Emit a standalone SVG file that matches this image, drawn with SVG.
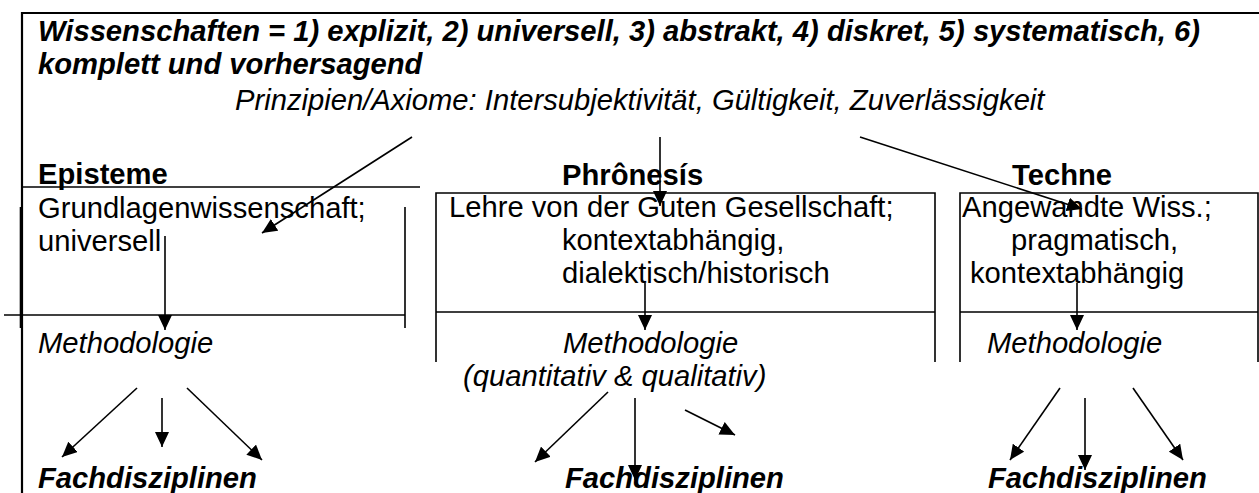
<svg xmlns="http://www.w3.org/2000/svg" width="1259" height="493" viewBox="0 0 1259 493">
<style>
text{font-family:"Liberation Sans",Arial,sans-serif;font-size:29.2px;fill:#000}
.bi{font-weight:bold;font-style:italic}
.b{font-weight:bold}
.i{font-style:italic}
.frame{stroke:#000;stroke-width:2.2;fill:none}
.ln{stroke:#000;stroke-width:1.6;fill:none}
.ar{stroke:#000;stroke-width:1.6;fill:none;marker-end:url(#ah)}
</style>
<defs>
<marker id="ah" markerUnits="userSpaceOnUse" markerWidth="16" markerHeight="14" refX="15" refY="7" orient="auto">
<path d="M0,0 L15,7 L0,14 z" fill="#000"/>
</marker>
</defs>
<rect width="1259" height="493" fill="#fff"/>
<g id="frame">
<path class="frame" d="M22,493 V13 H1259"/>
<text class="bi" x="38" y="41">Wissenschaften = 1) explizit, 2) universell, 3) abstrakt, 4) diskret, 5) systematisch, 6)</text>
<text class="bi" x="38" y="74">komplett und vorhersagend</text>
</g>
<g id="prinzipien">
<text class="i" x="235" y="110">Prinzipien/Axiome: Intersubjektivität, Gültigkeit, Zuverlässigkeit</text>
</g>
<g id="episteme">
<text class="b" x="38" y="184">Episteme</text>
<path class="ln" d="M22,187 H420"/>
<path class="ln" d="M20.5,207 V328 M405,207 V328"/>
<path class="ln" d="M4,315 H405"/>
<text x="38" y="218">Grundlagenwissenschaft;</text>
<text x="38" y="251">universell</text>
<text class="i" x="38" y="353">Methodologie</text>
<text class="bi" x="38" y="488">Fachdisziplinen</text>
</g>
<g id="phronesis">
<text class="b" x="562" y="185">Phrônesís</text>
<path class="ln" d="M436,362 V193 H935 V362 M436,312 H935"/>
<text x="449" y="217">Lehre von der Guten Gesellschaft;</text>
<text x="562" y="250">kontextabhängig,</text>
<text x="562" y="283">dialektisch/historisch</text>
<text class="i" x="563" y="353">Methodologie</text>
<text class="i" x="463" y="386">(quantitativ &amp; qualitativ)</text>
<text class="bi" x="565" y="488">Fachdisziplinen</text>
</g>
<g id="techne">
<text class="b" x="1012" y="185">Techne</text>
<path class="ln" d="M960,362 V193 H1258 V362 M960,312 H1258"/>
<text x="962" y="217">Angewandte Wiss.;</text>
<text x="1011" y="250">pragmatisch,</text>
<text x="970" y="283">kontextabhängig</text>
<text class="i" x="987" y="353">Methodologie</text>
<text class="bi" x="988" y="488">Fachdisziplinen</text>
</g>
<g id="connectors">
<line class="ar" x1="412" y1="137" x2="262" y2="233"/>
<line class="ar" x1="660" y1="137" x2="660" y2="206"/>
<line class="ar" x1="860" y1="137" x2="1082" y2="209"/>
<line class="ar" x1="165" y1="236" x2="165" y2="330"/>
<line class="ar" x1="645" y1="283" x2="645" y2="330"/>
<line class="ar" x1="1077" y1="283" x2="1077" y2="330"/>
<line class="ar" x1="137" y1="388" x2="62" y2="457"/>
<line class="ar" x1="162" y1="398" x2="162" y2="447"/>
<line class="ar" x1="187" y1="388" x2="262" y2="460"/>
<line class="ar" x1="608" y1="392" x2="535" y2="462"/>
<line class="ar" x1="635" y1="398" x2="635" y2="480"/>
<line class="ar" x1="685" y1="410" x2="735" y2="435"/>
<line class="ar" x1="1060" y1="388" x2="1010" y2="460"/>
<line class="ar" x1="1085" y1="398" x2="1085" y2="470"/>
<line class="ar" x1="1133" y1="388" x2="1183" y2="460"/>
</g>
</svg>
